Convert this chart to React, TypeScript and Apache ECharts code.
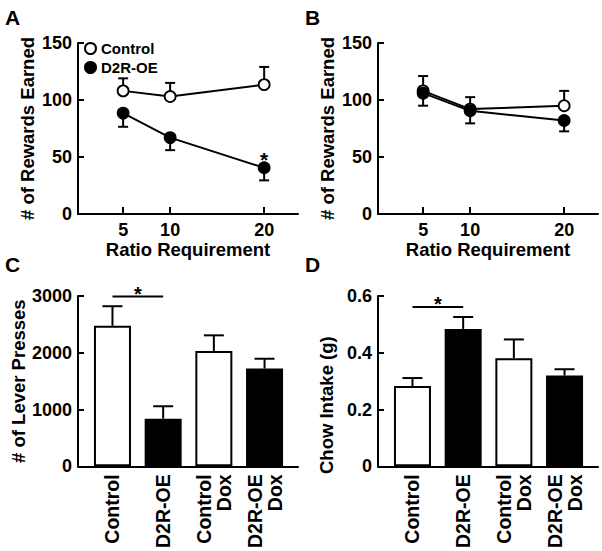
import React, { useEffect, useRef } from "react";
import * as echarts from "echarts";

// ---- Data ----
const ratioReq = [5, 10, 20];
const ratioTicks = [5, 10, 20];

// Panel A
const ctrlA = [108, 103, 113.5];
const ctrlAErr = [11, 12, 15.5];
const oeA = [88.5, 67, 40.5];
const oeAErr = [12, 11, 11];
const starA = [[20, 40.5]];

// Panel B
const ctrlB = [108, 92, 95];
const ctrlBErr = [13, 10.5, 13];
const oeB = [106, 90.5, 82];
const oeBErr = [11, 11, 9.5];

// Panel C / D
const barLabels = ["Control", "D2R-OE", "Control\nDox", "D2R-OE\nDox"];
const barPos = [1, 2, 3, 4];
const barFill = ["#ffffff", "#000000", "#ffffff", "#000000"];
const pressC = [2475, 840, 2030, 1722];
const pressCErr = [345, 218, 277, 173];
const chowD = [0.283, 0.484, 0.381, 0.32];
const chowDErr = [0.028, 0.042, 0.066, 0.022];
const sigC = [[1, 2, 2990]];
const sigD = [[1, 2, 0.561]];

const rewardTicks = { min: 0, max: 150, interval: 50 };
const pressTicks = { min: 0, max: 3000, interval: 1000 };
const chowTicks = { min: 0, max: 0.6, interval: 0.2 };

const FONT = "'Liberation Sans', Arial, Helvetica, sans-serif";

export default function App() {
  const ref = useRef<HTMLDivElement>(null);
  useEffect(() => {
    if (!ref.current) return;
    const chart = echarts.init(ref.current, null, { renderer: "svg" });

    const axisLineStyle = { color: "#000", width: 2 };
    const labelStyle = { color: "#000", fontSize: 18, fontWeight: "bold" as const, fontFamily: FONT };

    const grids = [
      { left: 78, top: 43, width: 220, height: 171 },
      { left: 378, top: 43, width: 220, height: 171 },
      { left: 78, top: 296, width: 220, height: 173 },
      { left: 378, top: 296, width: 220, height: 173 },
    ];

    const lineX = (gi: number) => ({
      type: "value",
      gridIndex: gi,
      min: 0.2,
      max: 23.6,
      splitLine: { show: false },
      axisLine: { show: true, onZero: false, lineStyle: axisLineStyle },
      axisTick: { show: true, inside: true, length: 7, lineStyle: axisLineStyle, customValues: ratioTicks },
      axisLabel: { ...labelStyle, margin: 7, customValues: ratioTicks },
      name: "Ratio Requirement",
      nameLocation: "middle",
      nameGap: 24,
      nameTextStyle: { ...labelStyle, fontSize: 18.5 },
    });

    const barX = (gi: number) => ({
      type: "value",
      gridIndex: gi,
      min: 0.32,
      max: 4.66,
      splitLine: { show: false },
      axisLine: { show: true, onZero: false, lineStyle: axisLineStyle },
      axisTick: { show: false },
      axisLabel: {
        ...labelStyle,
        fontSize: 19.5,
        margin: 8,
        rotate: 90,
        customValues: barPos,
        formatter: (v: number) => barLabels[Math.round(v) - 1] ?? "",
      },
    });

    const yAx = (gi: number, t: any, name: string, fmt: (v: number) => string, gap: number, pad?: number[]) => ({
      type: "value",
      gridIndex: gi,
      min: t.min,
      max: t.max,
      interval: t.interval,
      splitLine: { show: false },
      axisLine: { show: true, lineStyle: axisLineStyle },
      axisTick: { show: true, inside: true, length: 6, lineStyle: axisLineStyle },
      axisLabel: { ...labelStyle, margin: 6, formatter: fmt },
      name,
      nameLocation: "middle",
      nameRotate: 90,
      nameGap: gap,
      nameTextStyle: { ...labelStyle, fontSize: 18.5, padding: pad },
    });

    const errSeries = (gi: number, xs: number[], vals: number[], errs: number[], dir: number, cap: number) => ({
      type: "custom",
      xAxisIndex: gi,
      yAxisIndex: gi,
      z: 1,
      clip: false,
      silent: true,
      data: xs.map((x, i) => [x, vals[i], errs[i]]),
      renderItem: (_p: any, api: any) => {
        const x = api.value(0);
        const v = api.value(1);
        const e = api.value(2);
        const a = api.coord([x, v]);
        const b = api.coord([x, v + dir * e]);
        const st = { stroke: "#000", lineWidth: 2 };
        return {
          type: "group",
          children: [
            { type: "line", shape: { x1: a[0], y1: a[1], x2: b[0], y2: b[1] }, style: st },
            { type: "line", shape: { x1: b[0] - cap / 2, y1: b[1], x2: b[0] + cap / 2, y2: b[1] }, style: st },
          ],
        };
      },
    });

    const lineSeries = (gi: number, name: string, vals: number[], filled: boolean) => ({
      type: "line",
      name,
      xAxisIndex: gi,
      yAxisIndex: gi,
      z: 3,
      data: ratioReq.map((x, i) => [x, vals[i]]),
      symbol: "circle",
      symbolSize: 11,
      lineStyle: { color: "#000", width: 2 },
      itemStyle: { color: filled ? "#000" : "#fff", borderColor: "#000", borderWidth: 1.8 },
      emphasis: { disabled: true },
    });

    const sigSeries = (gi: number, data: number[][]) => ({
      type: "custom",
      xAxisIndex: gi,
      yAxisIndex: gi,
      z: 4,
      clip: false,
      silent: true,
      data,
      renderItem: (_p: any, api: any) => {
        const a = api.coord([api.value(0), api.value(2)]);
        const b = api.coord([api.value(1), api.value(2)]);
        return {
          type: "group",
          children: [
            { type: "line", shape: { x1: a[0], y1: a[1], x2: b[0], y2: b[1] }, style: { stroke: "#000", lineWidth: 2 } },
            {
              type: "text",
              style: {
                x: (a[0] + b[0]) / 2,
                y: a[1] - 3,
                text: "*",
                fill: "#000",
                font: `bold 20px ${FONT}`,
                textAlign: "center",
                textVerticalAlign: "middle",
              },
            },
          ],
        };
      },
    });

    const starSeries = (gi: number, data: number[][]) => ({
      type: "custom",
      xAxisIndex: gi,
      yAxisIndex: gi,
      z: 4,
      clip: false,
      silent: true,
      data,
      renderItem: (_p: any, api: any) => {
        const a = api.coord([api.value(0), api.value(1)]);
        return {
          type: "text",
          style: {
            x: a[0],
            y: a[1] - 8,
            text: "*",
            fill: "#000",
            font: `bold 21px ${FONT}`,
            textAlign: "center",
            textVerticalAlign: "middle",
          },
        };
      },
    });

    const barSeries = (gi: number, vals: number[]) => ({
      type: "bar",
      xAxisIndex: gi,
      yAxisIndex: gi,
      z: 2,
      barWidth: 37,
      silent: true,
      data: barPos.map((x, i) => ({
        value: [x, vals[i]],
        itemStyle: { color: barFill[i], borderColor: "#000", borderWidth: 2 },
      })),
    });

    const letter = (t: string, x: number, y: number) => ({
      type: "text",
      left: x,
      top: y,
      style: { text: t, fill: "#000", font: `bold 21px ${FONT}` },
    });

    const plain = (v: number) => String(v);

    chart.setOption({
      animation: false,
      grid: grids,
      legend: {
        data: ["Control", "D2R-OE"],
        orient: "vertical",
        left: 84,
        top: 41,
        padding: 0,
        icon: "circle",
        itemWidth: 11,
        itemHeight: 11,
        itemGap: 4,
        itemTextGap: 4,
        selectedMode: false,
        textStyle: { color: "#000", fontSize: 15, fontWeight: "bold", fontFamily: FONT },
      },
      xAxis: [lineX(0), lineX(1), barX(2), barX(3)],
      yAxis: [
        yAx(0, rewardTicks, "# of Rewards Earned", plain, 41),
        yAx(1, rewardTicks, "# of Rewards Earned", plain, 41),
        yAx(2, pressTicks, "# of Lever Presses", plain, 42),
        yAx(3, chowTicks, "Chow Intake (g)", (v: number) => (v === 0 ? "0" : v.toFixed(1)), 42, [0, 48, 0, 0]),
      ],
      graphic: [letter("A", 5, 7), letter("B", 305, 7), letter("C", 5, 254), letter("D", 305, 254)],
      series: [
        errSeries(0, ratioReq, ctrlA, ctrlAErr, 1, 10),
        errSeries(0, ratioReq, oeA, oeAErr, -1, 10),
        lineSeries(0, "Control", ctrlA, false),
        lineSeries(0, "D2R-OE", oeA, true),
        starSeries(0, starA),
        errSeries(1, ratioReq, ctrlB, ctrlBErr, 1, 10),
        errSeries(1, ratioReq, oeB, oeBErr, -1, 10),
        lineSeries(1, "Control", ctrlB, false),
        lineSeries(1, "D2R-OE", oeB, true),
        barSeries(2, pressC),
        errSeries(2, barPos, pressC, pressCErr, 1, 20),
        sigSeries(2, sigC),
        barSeries(3, chowD),
        errSeries(3, barPos, chowD, chowDErr, 1, 20),
        sigSeries(3, sigD),
      ],
    });
    return () => chart.dispose();
  }, []);
  return <div ref={ref} style={{ width: 602, height: 551, position: "absolute", left: 0, top: 0, background: "#fff" }} />;
}
